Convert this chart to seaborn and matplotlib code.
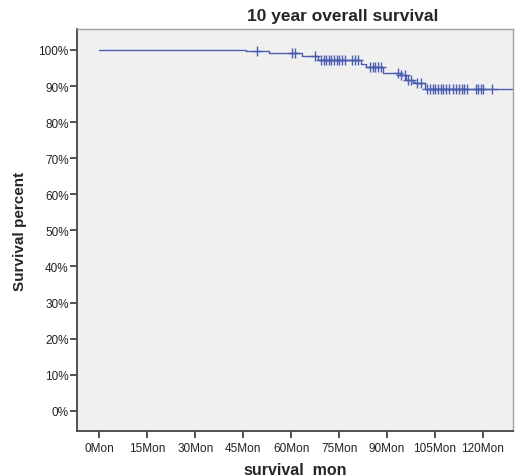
import matplotlib
matplotlib.use('Agg')
import matplotlib.pyplot as plt
import numpy
import pandas
import seaborn

# Kaplan-Meier steps (months, survival %)
step_months = [0, 46, 53.2, 63.3, 68.4, 82, 83.4, 88.8, 94, 96, 98, 98.75, 101.9, 130]
step_surv = [100, 99.6, 99.1, 98.2, 97.3, 96.2, 95.3, 93.6, 93.0, 91.8, 91.1, 90.7, 89.1, 89.1]

# Censored observations (months)
censor_months = [49.3, 60.4, 61.3, 67.5, 69.3, 70.2, 71.0, 71.8, 72.6, 73.4, 74.2, 75.0, 75.8, 76.7,
                 79.0, 80.0, 81.0, 84.7, 85.5, 86.3, 87.2, 88.0, 93.4, 94.5, 95.5, 96.5, 97.5,
                 99.5, 100.5, 102.6, 103.4, 104.3, 105.1, 105.9, 106.8, 107.6, 108.4, 109.5,
                 110.5, 111.6, 112.4, 113.3, 114.2, 114.9, 117.7, 118.5, 119.4, 120.1, 122.7]

y_ticks = list(range(0, 101, 10))
x_ticks = list(range(0, 121, 15))

curve = pandas.DataFrame({'month': step_months, 'surv': step_surv})
idx = numpy.searchsorted(step_months, censor_months, side = 'right') - 1
censors = pandas.DataFrame({'month': censor_months, 'surv': numpy.array(step_surv)[idx]})

seaborn.set_style('white')
plt.rcParams['font.family'] = ['Liberation Sans', 'DejaVu Sans']

fig = plt.figure(figsize = (5.19, 4.77), dpi = 100)
ax = fig.add_axes([0.1484, 0.0943, 0.84, 0.8428])
ax.set_facecolor('#f0f0f0')

line_color = '#4a5db0'
seaborn.lineplot(data = curve, x = 'month', y = 'surv', drawstyle = 'steps-post',
                 color = line_color, linewidth = 1.0, ax = ax)
seaborn.scatterplot(data = censors, x = 'month', y = 'surv', marker = '+', s = 50,
                    color = line_color, linewidth = 1.0, ax = ax, zorder = 3)

ax.set_xlim(-7, 129.4)
ax.set_ylim(-5.6, 105.8)
ax.set_yticks(y_ticks)
ax.set_yticklabels([f'{v}%' for v in y_ticks])
ax.set_xticks(x_ticks)
ax.set_xticklabels([f'{v}Mon' for v in x_ticks])
ax.tick_params(axis = 'both', direction = 'out', length = 5, width = 1.2, color = '#333333',
               labelsize = 8.5, labelcolor = '#222222', pad = 1, bottom = True, left = True)
ax.tick_params(axis = 'x', pad = 3)

for s in ['left', 'bottom']:
    ax.spines[s].set_color('#444444')
    ax.spines[s].set_linewidth(1.3)
for s in ['top', 'right']:
    ax.spines[s].set_color('#a0a0a0')
    ax.spines[s].set_linewidth(1.0)

ax.set_xlabel('survival_mon', fontsize = 11.5, fontweight = 'bold', labelpad = 5)
ax.set_ylabel('Survival percent', fontsize = 11, fontweight = 'bold', labelpad = 8)
fig.text(343 / 519, 1 - 16 / 477, '10 year overall survival', fontsize = 12.5,
         fontweight = 'bold', ha = 'center', va = 'center')

fig.savefig('out.png', dpi = 100)
